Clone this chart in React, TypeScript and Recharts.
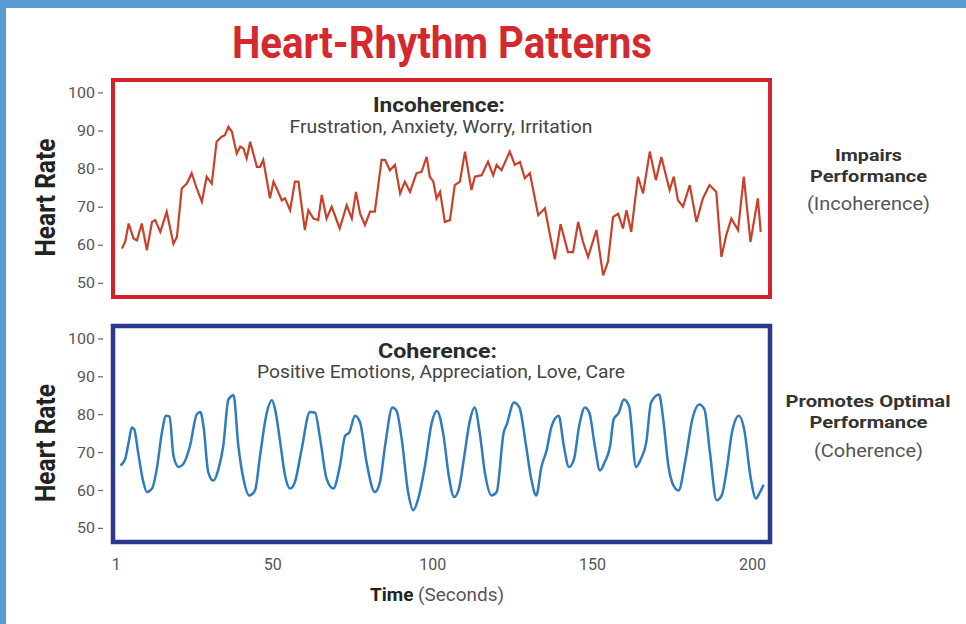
import React from 'react';
import { LineChart, Line, XAxis, YAxis, ReferenceArea, Label } from 'recharts';

// incoherent trace (top panel), seconds / bpm
const incoherenceTime = [
  2.8, 3.8, 4.9, 6.4, 7.5, 9.0, 10.6, 12.2, 13.2, 14.8, 16.8, 18.9, 20.0, 21.5, 23.1, 24.6, 26.2, 27.8, 29.3, 30.9,
  32.4, 34.0, 35.0, 36.1, 37.2, 38.7, 39.8, 40.8, 41.8, 42.9, 45.0, 46.0, 47.0, 49.1, 50.2, 51.2, 52.8, 53.8, 55.4, 56.9,
  58.0, 60.0, 61.1, 62.7, 64.2, 65.3, 66.8, 68.4, 70.9, 73.1, 74.7, 76.0, 77.3, 78.8, 80.4, 81.9, 84.0, 85.1, 86.6, 88.2,
  89.8, 91.3, 92.9, 94.9, 96.5, 98.1, 99.1, 100.2, 101.2, 102.3, 103.8, 105.4, 106.9, 108.5, 110.1, 112.1, 113.2, 115.3, 117.3, 118.9,
  120.0, 121.5, 124.1, 125.7, 127.3, 128.8, 130.4, 133.0, 135.1, 136.6, 138.2, 140.0, 142.3, 143.9, 145.5, 147.0, 148.6, 151.2, 153.3, 154.8,
  156.4, 158.0, 159.5, 160.6, 162.1, 164.2, 165.8, 167.9, 169.8, 171.5, 174.1, 175.4, 176.7, 178.3, 180.4, 182.5, 184.5, 186.6, 188.7, 190.3,
  191.8, 193.4, 195.5, 197.3, 199.4, 201.7, 202.6,
];
const incoherenceRate = [
  59.1, 60.9, 65.7, 61.8, 61.3, 65.7, 58.7, 66.1, 66.6, 63.5, 68.8, 60.4, 62.2, 74.9, 76.2, 78.9, 74.9, 71.4, 78.0, 76.2,
  87.2, 88.5, 88.9, 91.1, 89.8, 84.1, 85.9, 85.4, 82.8, 87.2, 80.6, 80.6, 82.4, 72.3, 76.7, 74.9, 71.8, 72.3, 69.2, 76.7,
  76.7, 64.0, 69.2, 67.0, 66.6, 73.2, 67.0, 70.1, 64.4, 70.5, 67.0, 74.0, 68.3, 65.3, 68.8, 68.8, 82.4, 82.4, 79.7, 81.1,
  73.6, 76.7, 74.0, 78.9, 79.3, 83.2, 78.0, 76.7, 72.3, 74.0, 66.1, 66.6, 75.8, 76.7, 84.6, 74.5, 78.0, 78.4, 81.9, 78.4,
  81.1, 79.7, 84.6, 81.1, 81.9, 77.6, 78.9, 67.9, 69.7, 63.0, 56.3, 65.5, 58.2, 58.2, 66.1, 60.9, 56.9, 64.0, 52.1, 55.6,
  67.4, 68.3, 64.4, 69.2, 63.5, 78.0, 73.6, 84.6, 77.1, 83.2, 74.5, 78.0, 71.8, 70.1, 75.8, 66.1, 72.3, 75.8, 74.0, 56.9,
  62.6, 67.0, 64.0, 78.0, 60.9, 72.3, 63.5,
];

// coherent trace (bottom panel)
const coherenceTime = [
  2.3, 3.8, 4.9, 5.9, 6.6, 8.0, 9.5, 10.6, 12.2, 13.7, 15.3, 16.6, 17.7, 18.9, 20.5, 22.0, 24.1, 26.2, 27.3, 28.3,
  29.8, 31.4, 33.0, 34.5, 36.1, 37.7, 39.2, 40.8, 42.6, 44.4, 46.0, 48.1, 49.7, 50.7, 52.3, 53.8, 55.4, 56.9, 59.0, 61.6,
  63.2, 64.8, 66.8, 68.9, 71.0, 72.6, 73.9, 75.7, 77.3, 79.3, 81.9, 83.5, 85.1, 87.4, 88.7, 90.3, 92.3, 93.9, 95.5, 97.6,
  99.7, 101.3, 103.4, 105.0, 106.7, 108.2, 109.9, 111.5, 113.1, 114.7, 116.3, 118.4, 120.0, 122.2, 123.2, 125.4, 127.1, 129.2, 130.8, 132.4,
  134.0, 135.6, 137.2, 139.4, 141.0, 142.6, 144.2, 145.8, 147.6, 149.0, 150.7, 152.3, 153.8, 155.5, 156.6, 158.2, 159.8, 161.4, 163.6, 165.1,
  166.8, 168.3, 170.8, 172.1, 173.7, 175.3, 176.9, 179.1, 181.2, 183.4, 185.0, 186.7, 188.8, 190.4, 192.0, 193.6, 195.8, 197.4, 199.5, 201.1,
  202.4, 203.5,
];
const coherenceRate = [
  66.6, 68.3, 72.7, 76.6, 76.2, 69.2, 62.2, 59.6, 60.5, 65.7, 75.3, 79.7, 79.5, 69.2, 66.2, 67.0, 71.8, 80.1, 80.7, 77.0,
  64.8, 62.6, 65.7, 71.8, 84.0, 85.1, 71.8, 63.1, 58.7, 60.0, 69.2, 80.5, 83.8, 81.4, 72.7, 64.0, 60.5, 62.2, 70.9, 80.7,
  80.5, 73.6, 63.1, 60.5, 66.6, 74.4, 75.3, 79.7, 77.9, 67.5, 59.6, 62.2, 71.8, 81.9, 81.0, 73.6, 59.6, 54.8, 57.9, 66.6,
  77.9, 81.0, 74.4, 64.0, 58.3, 60.5, 69.2, 77.9, 81.9, 75.3, 64.8, 58.7, 59.6, 75.3, 77.5, 83.2, 81.9, 71.8, 63.1, 58.7,
  66.2, 70.5, 77.0, 79.7, 71.8, 66.2, 68.3, 77.0, 81.9, 80.5, 71.8, 65.3, 67.5, 71.8, 78.8, 80.5, 84.0, 82.3, 66.2, 68.3,
  72.7, 83.2, 85.3, 78.8, 66.6, 61.3, 60.0, 68.3, 78.8, 82.7, 81.4, 70.1, 57.4, 58.7, 65.7, 75.3, 79.7, 76.2, 63.1, 57.9,
  59.6, 61.5,
];

const yTicks = [50, 60, 70, 80, 90, 100];
const xTicks = [1, 50, 100, 150, 200];

const FONT = 'Roboto, "Noto Sans", sans-serif';
const X_DOMAIN: [number, number] = [0, 205.5];
const Y_DOMAIN: [number, number] = [46.4, 103.4];

const toRows = (t: number[], v: number[]) => t.map((time, i) => ({ time, rate: v[i] }));
const incoherenceData = toRows(incoherenceTime, incoherenceRate);
const coherenceData = toRows(coherenceTime, coherenceRate);

const YTick = (props: any) => {
  const { x, y, payload } = props;
  const s = String(payload.value);
  return (
    <g>
      <text x={x - 8} y={y} dy="0.36em" textAnchor="end" fill="#555" fontSize={14}
        fontFamily={FONT} textLength={s.length * 9} lengthAdjust="spacingAndGlyphs">{s}</text>
      <line x1={x - 5} x2={x} y1={y} y2={y} stroke="#666" strokeWidth={1.2} />
    </g>
  );
};

const XTick = (props: any) => {
  const { x, y, payload } = props;
  return (
    <text x={x} y={y + 20} textAnchor="middle" fill="#555" fontSize={16} fontFamily={FONT}>
      {payload.value}
    </text>
  );
};

const HeartRateLabel = (props: any) => {
  const vb = props.viewBox;
  const cy = vb.y + vb.height / 2 + 9;
  return (
    <text transform={`translate(55, ${cy}) rotate(-90)`} textAnchor="middle" fontSize={28}
      fontWeight={700} fill="#222" fontFamily={FONT} textLength={118} lengthAdjust="spacingAndGlyphs">
      Heart Rate
    </text>
  );
};

const Txt = ({ x, y, size, bold, fill, len, children }: any) => (
  <text x={x} y={y} textAnchor="middle" fontSize={size} fontWeight={bold ? 700 : 400} fill={fill}
    fontFamily={FONT} textLength={len} lengthAdjust="spacingAndGlyphs">{children}</text>
);

export default function App() {
  return (
    <div style={{ position: 'absolute', left: 0, top: 0, width: 966, height: 624, background: '#fff', overflow: 'hidden' }}>
      <div style={{ position: 'absolute', left: 0, top: 0, width: 966, height: 8, background: '#5b9bd5' }} />
      <div style={{ position: 'absolute', left: 0, top: 0, width: 6, height: 624, background: '#5b9bd5' }} />

      <div style={{ position: 'absolute', left: 0, top: 0 }}>
        <LineChart width={966} height={320} data={incoherenceData}
          margin={{ top: 80, right: 196, bottom: 23, left: 53 }}>
          <XAxis type="number" dataKey="time" domain={X_DOMAIN} allowDataOverflow hide />
          <YAxis type="number" domain={Y_DOMAIN} allowDataOverflow ticks={yTicks} width={60}
            axisLine={false} tickLine={false} tickSize={10} tickMargin={0} tick={<YTick />}>
            <Label content={<HeartRateLabel />} />
          </YAxis>
          <ReferenceArea x1={X_DOMAIN[0]} x2={X_DOMAIN[1]} y1={Y_DOMAIN[0]} y2={Y_DOMAIN[1]}
            fill="none" stroke="#d3222c" strokeWidth={4} ifOverflow="visible" />
          <Line type="linear" dataKey="rate" stroke="#c8412b" strokeWidth={2.2} dot={false} isAnimationActive={false} />
        </LineChart>
      </div>

      <div style={{ position: 'absolute', left: 0, top: 300 }}>
        <LineChart width={966} height={324} data={coherenceData}
          margin={{ top: 26, right: 196, bottom: 42, left: 53 }}>
          <XAxis type="number" dataKey="time" domain={X_DOMAIN} allowDataOverflow ticks={xTicks} height={40}
            axisLine={false} tickLine={false} tick={<XTick />} />
          <YAxis type="number" domain={Y_DOMAIN} allowDataOverflow ticks={yTicks} width={60}
            axisLine={false} tickLine={false} tickSize={10} tickMargin={0} tick={<YTick />}>
            <Label content={<HeartRateLabel />} />
          </YAxis>
          <ReferenceArea x1={X_DOMAIN[0]} x2={X_DOMAIN[1]} y1={Y_DOMAIN[0]} y2={Y_DOMAIN[1]}
            fill="none" stroke="#2b3990" strokeWidth={4.5} ifOverflow="visible" />
          <Line type="monotone" dataKey="rate" stroke="#2f7bc0" strokeWidth={2.5} dot={false} isAnimationActive={false} />
        </LineChart>
      </div>

      <svg width={966} height={624} style={{ position: 'absolute', left: 0, top: 0, pointerEvents: 'none' }}>
        <Txt x={442} y={58} size={44} bold fill="#d42a2f" len={420}>Heart-Rhythm Patterns</Txt>

        <Txt x={439} y={111.5} size={21} bold fill="#2b2b2b" len={132}>Incoherence:</Txt>
        <Txt x={441} y={133} size={18} fill="#444" len={303}>Frustration, Anxiety, Worry, Irritation</Txt>
        <Txt x={437.5} y={358} size={21} bold fill="#2b2b2b" len={119}>Coherence:</Txt>
        <Txt x={441} y={378} size={18} fill="#444" len={368}>Positive Emotions, Appreciation, Love, Care</Txt>

        <Txt x={868.5} y={161} size={17} bold fill="#333" len={67}>Impairs</Txt>
        <Txt x={868.5} y={182} size={17} bold fill="#333" len={117}>Performance</Txt>
        <Txt x={868.5} y={210} size={18} fill="#555" len={123}>(Incoherence)</Txt>

        <Txt x={868} y={406.5} size={17} bold fill="#333" len={165}>Promotes Optimal</Txt>
        <Txt x={868.5} y={428} size={17} bold fill="#333" len={118}>Performance</Txt>
        <Txt x={868.5} y={457} size={18} fill="#555" len={109}>(Coherence)</Txt>

        <text x={370} y={601} fontSize={19} fontFamily={FONT} textLength={134} lengthAdjust="spacingAndGlyphs">
          <tspan fontWeight={700} fill="#222">Time</tspan>
          <tspan fill="#555"> (Seconds)</tspan>
        </text>
      </svg>
    </div>
  );
}
